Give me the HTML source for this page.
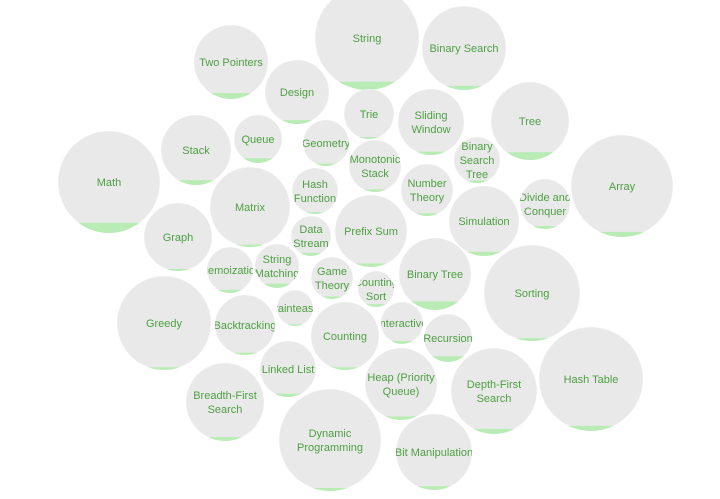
<!DOCTYPE html>
<html><head><meta charset="utf-8">
<style>
html,body{margin:0;padding:0;background:#fff;}
svg{display:block;}
text{font-family:"Liberation Sans",Arial,sans-serif;font-size:11px;fill:#4ea043;}
</style></head>
<body>
<svg id="chart" width="720" height="499"></svg>
<script>
const topics = ["String","Binary Search","Two Pointers","Design","Trie","Sliding\nWindow","Tree","Stack","Queue","Geometry","Binary\nSearch\nTree","Monotonic\nStack","Math","Array","Number\nTheory","Divide and\nConquer","Hash\nFunction","Matrix","Simulation","Data\nStream","Prefix Sum","Graph","Memoization","String\nMatching","Game\nTheory","Counting\nSort","Binary Tree","Sorting","Brainteaser","Greedy","Backtracking","Counting","Interactive","Recursion","Linked List","Hash Table","Heap (Priority\nQueue)","Depth-First\nSearch","Breadth-First\nSearch","Dynamic\nProgramming","Bit Manipulation"];
const centerX = [367,464,231,297,369,431,530,196,258,326,477,375,109,622,427,545,315,250,484,311,371,178,230,277,332,376,435,532,295,164,245,345,402,448,288,591,401,494,225,330,434];
const centerY = [38,48,62,92,114,122,121,150,139,143,160,166,182,186,190,204,191,207,221,236,231,237,270,266,278,289,274,293,308,323,325,336,323,338,369,379,384,391,402,440,452];
const sizes = [52,42,37,32,25,33,39,35,24,23,23,26,51,51,26,25,23,40,35,20,36,34,23,22,21,18,36,48,18,47,30,34,21,24,28,52,36,43,39,51,38];
const solvedRatio = [0.08,0.05,0.08,0.06,0.04,0.05,0.1,0.07,0.1,0.05,0.05,0.05,0.1,0.05,0.05,0.06,0.04,0.03,0.06,0.08,0.05,0.03,0.07,0.1,0.06,0.08,0.12,0.03,0.05,0.03,0.04,0.04,0.07,0.12,0.06,0.05,0.05,0.06,0.05,0.03,0.05];

const NS="http://www.w3.org/2000/svg";
const svg=document.getElementById('chart');
const defs=document.createElementNS(NS,'defs');svg.appendChild(defs);
function mk(t,a){const e=document.createElementNS(NS,t);for(const k in a)e.setAttribute(k,a[k]);return e;}
topics.forEach((name,i)=>{
  const cx=centerX[i],cy=centerY[i],r=sizes[i];
  const cp=mk('clipPath',{id:'c'+i});cp.appendChild(mk('circle',{cx:cx,cy:cy,r:r}));defs.appendChild(cp);
  const g=mk('g',{'clip-path':'url(#c'+i+')'});
  
  
  const c=mk('circle',{cx:cx,cy:cy,r:r,fill:'#e9e9e9',stroke:'#f2f2f2','stroke-width':1});
  
  
  g.appendChild(c);
  const h=solvedRatio[i]*2*r;
  const rect=mk('rect',{x:cx-r,y:cy+r-h,width:2*r,height:h,fill:'#b9ecb5'});
  
  
  g.appendChild(rect);
  const lines=name.split('\n');
  const t=mk('text',{'text-anchor':'middle'});
  
  
  lines.forEach((ln,j)=>{
    const ts=mk('tspan',{x:cx,y:cy+4+(j-(lines.length-1)/2)*14});
    ts.textContent=ln;t.appendChild(ts);
  });
  g.appendChild(t);
  svg.appendChild(g);
});
</script>
</body></html>
